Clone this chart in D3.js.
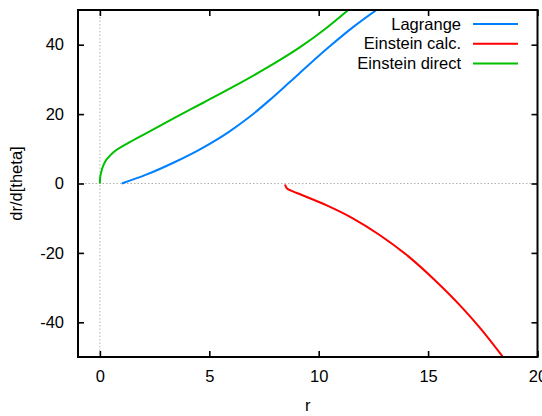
<!DOCTYPE html>
<html>
<head>
<meta charset="utf-8">
<script src="https://cdn.jsdelivr.net/npm/d3@7"></script>
<style>
  body { margin: 0; background: #fff; }
  svg { display: block; font-family: "Liberation Sans", Arial, sans-serif; }
</style>
</head>
<body>
<svg id="chart" width="542" height="416"></svg>
<script>
// values
const lagrangeR = [1, 2.06, 3.43, 4.7, 5.9, 6.86, 7.77, 8.69, 9.6, 10.52, 11.6, 12.75]
const lagrangeV = [0, 2.4, 6.2, 10.3, 14.9, 19.3, 24.1, 29.3, 34.5, 39.6, 45.2, 50.5]

const calcR = [8.46, 8.53, 8.8, 9.15, 10.37, 11.58, 12.8, 14.1, 15.3, 16.5, 17.4, 18.4]
const calcV = [-0.3, -1.3, -2.2, -3.1, -6.3, -10.1, -14.9, -21.0, -27.8, -35.4, -41.8, -49.8]

const directR = [0, 0.01, 0.05, 0.2, 0.52, 1.25, 2.15, 3.43, 4.7, 6.1, 7.62, 9.15, 10.37, 11.35]
const directV = [0, 1.5, 3.0, 5.8, 8.4, 11.5, 14.6, 19.0, 23.2, 27.9, 33.3, 39.3, 44.9, 50.0]

const xTicks = [0, 5, 10, 15, 20]
const yTicks = [-40, -20, 0, 20, 40]

const series = [
  { name: 'Lagrange', color: '#0080ff', r: lagrangeR, v: lagrangeV },
  { name: 'Einstein calc.', color: '#ff0000', r: calcR, v: calcV },
  { name: 'Einstein direct', color: '#00c000', r: directR, v: directV }
]

const svg = d3.select('#chart')
const pLeft = 78, pRight = 537.5, pTop = 10, pBottom = 357

const x = d3.scaleLinear().domain([-1, 20]).range([pLeft, pRight])
const y = d3.scaleLinear().domain([-50, 50]).range([pBottom, pTop])

svg.append('rect')
  .attr('width', 542).attr('height', 416).attr('fill', '#fff')

svg.append('clipPath').attr('id', 'plot')
  .append('rect')
  .attr('x', pLeft).attr('y', pTop)
  .attr('width', pRight - pLeft).attr('height', pBottom - pTop)

// zero axes
const zero = svg.append('g')
  .attr('stroke', '#b0b0b0')
  .attr('stroke-width', 1)
  .attr('stroke-dasharray', '1.5,2')
zero.append('line')
  .attr('x1', pLeft).attr('x2', pRight)
  .attr('y1', y(0)).attr('y2', y(0))
zero.append('line')
  .attr('x1', x(0)).attr('x2', x(0))
  .attr('y1', pTop).attr('y2', pBottom)

// axes
function styleAxis(g) {
  g.select('.domain').remove()
  g.selectAll('.tick line').attr('stroke', '#000').attr('stroke-width', 1.6)
  g.selectAll('.tick text').attr('fill', '#000').style('font-size', '16.5px')
}
const plain = d => String(d)

svg.append('g')
  .attr('transform', `translate(${pLeft},0)`)
  .call(d3.axisLeft(y).tickValues(yTicks).tickSize(-6).tickPadding(14).tickFormat(plain))
  .call(styleAxis)

svg.append('g')
  .attr('transform', `translate(${pRight},0)`)
  .call(d3.axisRight(y).tickValues(yTicks).tickSize(-6).tickFormat(''))
  .call(styleAxis)

svg.append('g')
  .attr('transform', `translate(0,${pBottom})`)
  .call(d3.axisBottom(x).tickValues(xTicks).tickSize(-6).tickPadding(13).tickFormat(plain))
  .call(styleAxis)

svg.append('g')
  .attr('transform', `translate(0,${pTop})`)
  .call(d3.axisTop(x).tickValues(xTicks).tickSize(-6).tickFormat(''))
  .call(styleAxis)

// curves
const line = d3.line()
  .x(d => x(d[0]))
  .y(d => y(d[1]))
  .curve(d3.curveMonotoneX)

svg.append('g')
  .attr('clip-path', 'url(#plot)')
  .selectAll('path')
  .data(series)
  .enter()
  .append('path')
  .attr('fill', 'none')
  .attr('stroke', d => d.color)
  .attr('stroke-width', 2)
  .attr('stroke-linejoin', 'round')
  .attr('d', d => line(d.r.map((r, i) => [r, d.v[i]])))

// border
svg.append('rect')
  .attr('x', pLeft).attr('y', pTop)
  .attr('width', pRight - pLeft).attr('height', pBottom - pTop)
  .attr('fill', 'none')
  .attr('stroke', '#000')
  .attr('stroke-width', 2)

// legend
const legend = svg.append('g')
  .selectAll('g')
  .data(series)
  .enter()
  .append('g')
  .attr('transform', (d, i) => `translate(0,${24 + i * 19.7})`)

legend.append('text')
  .attr('x', 461)
  .attr('dy', '0.35em')
  .attr('text-anchor', 'end')
  .style('font-size', '16.5px')
  .text(d => d.name)

legend.append('line')
  .attr('x1', 473).attr('x2', 518)
  .attr('stroke', d => d.color)
  .attr('stroke-width', 2)

// axis titles
svg.append('text')
  .attr('x', (pLeft + pRight) / 2)
  .attr('y', 411)
  .attr('text-anchor', 'middle')
  .style('font-size', '16.5px')
  .text('r')

svg.append('text')
  .attr('transform', `translate(22,${(pTop + pBottom) / 2}) rotate(-90)`)
  .attr('text-anchor', 'middle')
  .style('font-size', '16.5px')
  .text('dr/d[theta]')
</script>
</body>
</html>
